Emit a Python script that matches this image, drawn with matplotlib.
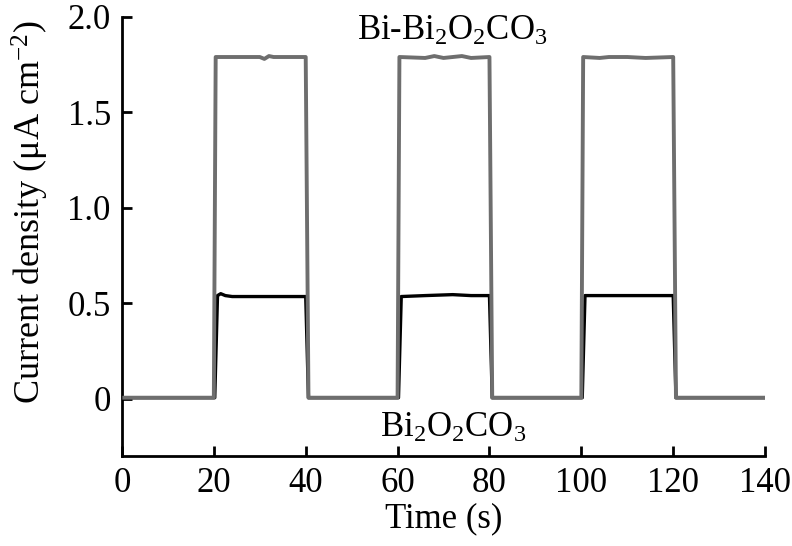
import matplotlib.pyplot as plt
import numpy as np

plt.rcParams['font.family'] = ['Liberation Serif', 'DejaVu Serif']
plt.rcParams['mathtext.fontset'] = 'custom'
plt.rcParams['mathtext.rm'] = 'Liberation Serif'
plt.rcParams['mathtext.it'] = 'Liberation Serif:italic'

# datos
t_bi = [0.5, 20.0, 20.4, 30.0, 31.0, 32.0, 33.0, 40.0, 40.6, 60.0, 60.4, 66.0, 68.0, 70.0, 72.0,
        74.0, 76.0, 80.0, 80.6, 100.0, 100.4, 104.0, 106.0, 110.0, 114.0, 120.0, 120.6, 140.0]
i_bi = [0.005, 0.005, 1.79, 1.79, 1.78, 1.795, 1.79, 1.79, 0.005, 0.005, 1.79, 1.785, 1.795, 1.785,
        1.79, 1.795, 1.785, 1.79, 0.005, 0.005, 1.79, 1.785, 1.79, 1.79, 1.785, 1.79, 0.005, 0.005]

t_boc = [0.5, 20.2, 20.8, 21.5, 22.5, 24.0, 40.0, 40.6, 60.2, 60.8, 66.0, 72.0, 76.0, 80.0, 80.6,
         100.2, 100.8, 110.0, 120.0, 120.6, 140.0]
i_boc = [0.005, 0.005, 0.54, 0.55, 0.54, 0.535, 0.535, 0.005, 0.005, 0.535, 0.54, 0.545, 0.54,
         0.54, 0.005, 0.005, 0.54, 0.54, 0.54, 0.005, 0.005]

fig, ax = plt.subplots(figsize=(7.92, 5.46), dpi=100)
fig.subplots_adjust(left=0.154, right=0.966, bottom=0.165, top=0.969)

ax.plot(t_boc, i_boc, color="black", lw=2.4, zorder=2)
ax.plot(t_bi, i_bi, color="#6e6e6e", lw=2.8, zorder=3)

ax.text(72, 1.925, r"Bi-Bi$_2$O$_2$CO$_3$", fontsize=25, ha="center", va="center")
ax.text(72, -0.155, r"Bi$_2$O$_2$CO$_3$", fontsize=25, ha="center", va="center")

ax.set_xlim(0, 140)
ax.set_ylim(-0.3, 2.0)
ax.set_xticks([0, 20, 40, 60, 80, 100, 120, 140])
ax.set_yticks([0, 0.5, 1.0, 1.5, 2.0])
ax.set_yticklabels(["0", "0.5", "1.0", "1.5", "2.0"])

for s in ["top", "right"]:
    ax.spines[s].set_visible(False)
for s in ["left", "bottom"]:
    ax.spines[s].set_linewidth(2)

ax.tick_params(direction="in", length=7, width=2, labelsize=25, pad=8)
ax.set_xlabel("Time (s)", fontsize=25, labelpad=2)
ax.set_ylabel(r"Current density (μA cm$^{-2}$)", fontsize=26)
ax.yaxis.set_label_coords(-0.111, 0.555)

plt.savefig("out.png", dpi=100)
